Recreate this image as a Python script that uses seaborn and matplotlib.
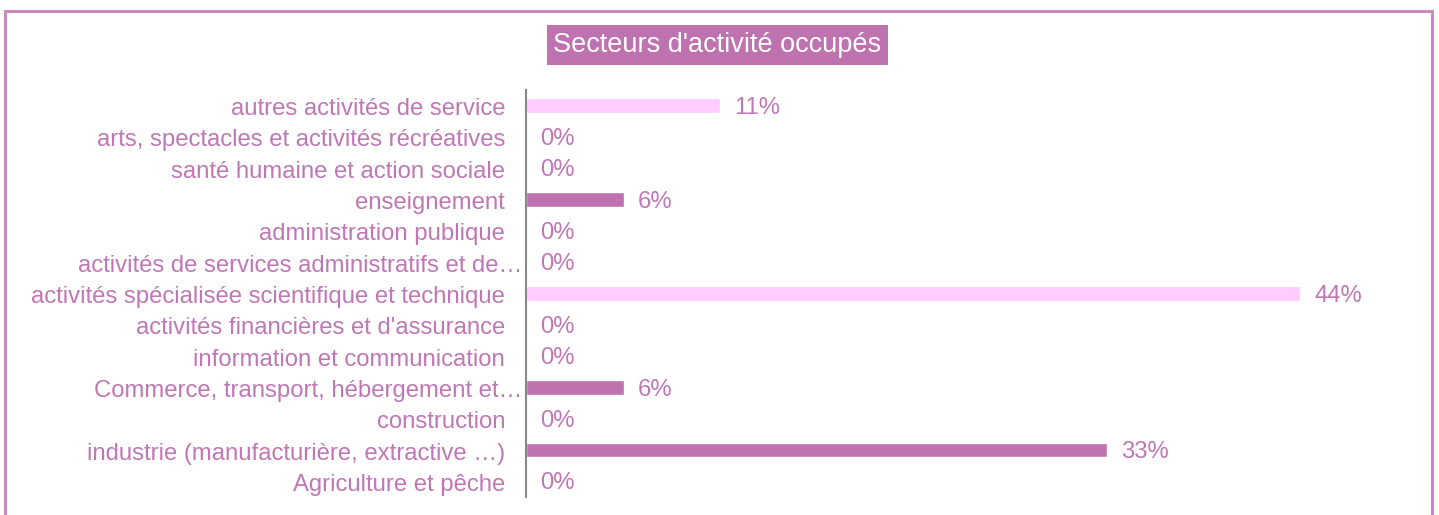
import matplotlib
matplotlib.use("Agg")
import matplotlib.pyplot as plt
import matplotlib.transforms as mtransforms
from matplotlib.patches import Rectangle
import seaborn as sns
import pandas as pd

# ====================================
# DONNÉES
# ====================================

secteurs = [
    "autres activités de service",
    "arts, spectacles et activités récréatives",
    "santé humaine et action sociale",
    "enseignement",
    "administration publique",
    "activités de services administratifs et de…",
    "activités spécialisée scientifique et technique",
    "activités financières et d'assurance",
    "information et communication",
    "Commerce, transport, hébergement et…",
    "construction",
    "industrie (manufacturière, extractive …)",
    "Agriculture et pêche",
]

pourcentages = [11.1, 0, 0, 5.6, 0, 0, 44.4, 0, 0, 5.6, 0, 33.3, 0]

couleurs = [
    "#FFCCFF", "#BE72AF", "#BE72AF", "#BE72AF", "#BE72AF", "#BE72AF",
    "#FFCCFF", "#BE72AF", "#BE72AF", "#BE72AF", "#BE72AF", "#BE72AF",
    "#BE72AF",
]

titre = "Secteurs d'activité occupés"

df = pd.DataFrame({"Secteur": secteurs, "Pourcentage": pourcentages})

# ====================================
# STYLE
# ====================================

sns.set_style("white")
plt.rcParams["font.family"] = ["Liberation Sans", "DejaVu Sans"]

texte = "#C077B5"
taille = 17.2

fig = plt.figure(figsize=(14.39, 5.15), dpi=100)
ax = fig.add_axes([526 / 1439, 18 / 515, 872 / 1439, 407 / 515])

sns.barplot(
    data=df,
    y="Secteur",
    x="Pourcentage",
    hue="Secteur",
    palette=couleurs,
    legend=False,
    width=0.47,
    saturation=1,
    ax=ax
)

ax.set_xlim(0, 50)
ax.set_ylim(12.5, -0.5)

for cont in ax.containers:
    etiquettes = ax.bar_label(
        cont,
        labels=[f"{v.get_width():.0f}%" for v in cont],
        padding=10.5,
        fontsize=taille,
        color=texte
    )
    # léger décalage vers le bas
    for et in etiquettes:
        x0, y0 = et.xyann
        et.xyann = (x0, y0 - 1.5)

ax.set_xlabel("")
ax.set_ylabel("")
ax.set_xticks([])
ax.tick_params(axis="y", length=0, pad=15, labelsize=taille, labelcolor=texte)

# les libellés tronqués débordent jusqu'à l'axe
bas = mtransforms.ScaledTranslation(0, -1 / 100, fig.dpi_scale_trans)
decalage = mtransforms.ScaledTranslation(17 / 100, -1 / 100, fig.dpi_scale_trans)
for lab in ax.get_yticklabels():
    if lab.get_text().endswith("et…") or lab.get_text().endswith("de…"):
        lab.set_transform(lab.get_transform() + decalage)
    else:
        lab.set_transform(lab.get_transform() + bas)

for cote in ["top", "right", "bottom"]:
    ax.spines[cote].set_visible(False)
ax.spines["left"].set_color("#888888")
ax.spines["left"].set_linewidth(1.5)

# ====================================
# TITRE ET CADRE
# ====================================

fig.text(
    0.4985, 1 - 45 / 515,
    titre,
    ha="center",
    va="center",
    fontsize=19.5,
    color="white",
    bbox=dict(boxstyle="square,pad=0.25", facecolor="#BE72AF", edgecolor="none")
)

fig.patches.append(Rectangle(
    (5 / 1439, -0.1), 1427 / 1439, 1.1 - 11 / 515,
    transform=fig.transFigure,
    fill=False,
    edgecolor="#C988C2",
    linewidth=2.2
))

plt.savefig("out.png", dpi=100)
plt.close()
